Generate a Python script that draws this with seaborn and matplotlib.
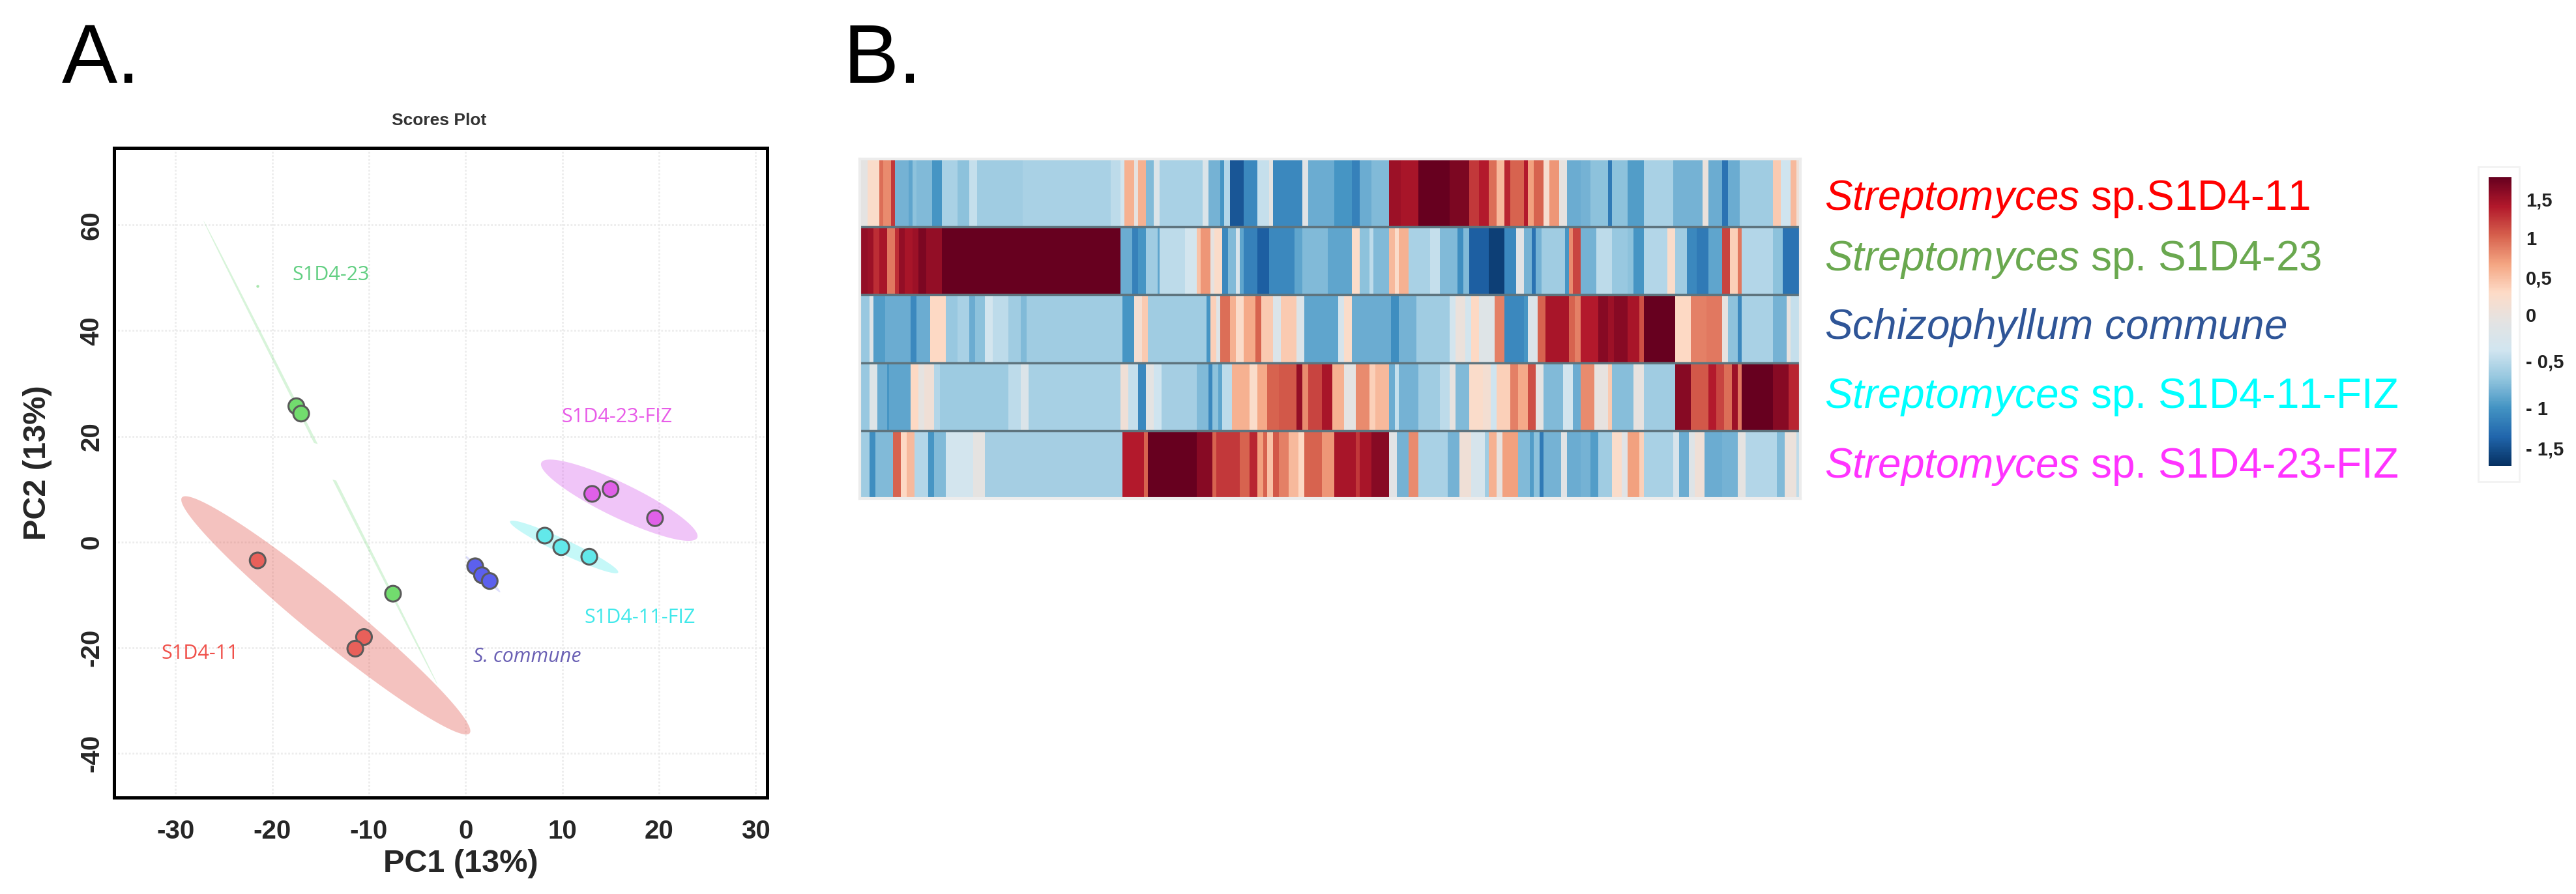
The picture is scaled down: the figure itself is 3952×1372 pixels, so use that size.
import numpy as np
import pandas as pd
import matplotlib
matplotlib.use("Agg")
import matplotlib.pyplot as plt
from matplotlib.colors import LinearSegmentedColormap
from matplotlib.patches import Rectangle
import seaborn as sns

sns.set_theme(style="white")
plt.rcParams["font.family"] = ["Liberation Sans", "DejaVu Sans"]
plt.rcParams["mathtext.fontset"] = "custom"
plt.rcParams["mathtext.it"] = "Liberation Sans:italic"
plt.rcParams["mathtext.rm"] = "Liberation Sans"
plt.rcParams["axes.unicode_minus"] = False

FIG_W, FIG_H = 3952, 1372

############### Panel A data
groups = ["S1D4-11", "S1D4-23", "S. commune", "S1D4-11-FIZ", "S1D4-23-FIZ"]
group_colors = ["#e8605a", "#72dc6e", "#5c60ee", "#62e8ea", "#e060e8"]
label_colors = ["#f0504a", "#62cf82", "#6a60b4", "#40e8ea", "#e85ce8"]

s1d4_11_pc1 = [-21.5, -10.5, -11.4]
s1d4_11_pc2 = [-3.5, -18.0, -20.2]
s1d4_23_pc1 = [-17.5, -17.0, -7.5]
s1d4_23_pc2 = [25.7, 24.3, -9.8]
commune_pc1 = [1.0, 1.7, 2.5]
commune_pc2 = [-4.6, -6.3, -7.4]
s1d4_11_fiz_pc1 = [8.2, 9.9, 12.8]
s1d4_11_fiz_pc2 = [1.2, -1.0, -2.8]
s1d4_23_fiz_pc1 = [13.1, 15.0, 19.6]
s1d4_23_fiz_pc2 = [9.1, 10.0, 4.5]
green_speck = (-21.5, 48.5)

# ellipse tips (x0, y0, x1, y1) and half thickness along PC2
ellipse_red = (-29.4, 8.0, 0.5, -35.8, 5.4)
ellipse_green = (-27.1, 60.8, -2.9, -27.0, 0.6)
ellipse_blue = (0.0, -2.7, 3.6, -9.5, 0.6)
ellipse_cyan = (4.6, 3.8, 15.8, -5.7, 1.5)
ellipse_magenta = (7.8, 14.7, 24.0, 1.1, 3.6)

x_ticks = [-30, -20, -10, 0, 10, 20, 30]
y_ticks = [-40, -20, 0, 20, 40, 60]

############### Panel B data, (end column, value) runs per row
row1 = [(2, 0.0), (5, 0.3), (6, 0.95), (8, 0.8), (9, 1.2), (12.6, -0.8), (13.6, -0.9), (14.6, -0.7),
        (18.6, -0.75), (20.8, -1.0), (25, -0.55), (28, -0.7), (30, -0.4), (41.5, -0.6), (64, -0.55),
        (66.6, -0.45), (67.4, -0.3), (70, 0.6), (71, 0.05), (73.2, 0.6), (75, -0.75), (76.6, -0.15),
        (87.4, -0.55), (89, -0.15), (92, -0.8), (93, -1.0), (94.6, -0.5), (98, -1.45), (101.3, -1.1),
        (104.6, -0.4), (105.5, 0.0), (113, -1.1), (114.6, -0.05), (120.8, -0.85), (125.7, -1.0),
        (127.4, -1.15), (130.7, -0.85), (134.9, -0.75), (138.2, 1.45), (142.4, 1.4), (150.4, 1.7),
        (155.4, 1.6), (158.2, 1.2), (160.4, 1.35), (162.4, 0.95), (164.6, 0.55), (166, 1.3),
        (169.3, 1.0), (170.7, 1.35), (171.8, 0.7), (174.6, 1.0), (176, 0.25), (178.5, 0.75),
        (180.7, 0.05), (183.8, -0.85), (186.6, -0.8), (190.8, -0.7), (191.9, -1.2), (195.8, -0.7),
        (199.9, -0.95), (207.4, -0.55), (215.2, -0.8), (216.6, 0.1), (220.2, -0.85), (221.6, -1.25),
        (224.6, -0.85), (233, -0.6), (235.2, 0.45), (237.4, -0.35), (238.8, 0.55), (240, 0.15)]

row2 = [(1.8, 1.5), (3.5, 1.45), (5.2, 1.25), (6.8, 1.4), (9, 0.9), (10, 1.25), (11.5, 1.5), (13.5, 1.4),
        (14.9, 1.45), (17.1, 1.6), (21, 1.5), (66.6, 1.7), (69.6, -0.85), (70.8, -1.15), (73.2, -1.0),
        (75.8, -0.6), (76.6, -0.9), (83, -0.45), (85.8, -0.3), (86.9, 0.5), (89.6, 0.75), (90.5, 0.05),
        (92.4, 0.3), (93.8, -1.1), (95.8, -0.75), (97.1, -0.2), (98, -0.9), (101.6, -1.15), (104.6, -1.4),
        (111, -1.1), (113, -0.9), (119.4, -0.75), (125.7, -0.9), (127.4, 0.3), (129.9, -0.7),
        (131, -0.45), (134.9, -0.75), (136.3, 0.55), (137.7, 0.3), (139.9, 0.6), (145.4, -0.55),
        (148.2, -0.4), (152.7, -0.75), (153.8, -1.05), (155.7, -0.75), (160.4, -1.4), (164.3, -1.6),
        (167.7, -1.1), (169.6, -0.05), (171.3, -0.8), (172.7, -1.25), (173.8, -0.8), (180.2, -0.6),
        (181, -1.0), (182.1, 0.8), (183.8, 1.15), (188, -0.8), (191.9, -0.45), (195.8, -0.65),
        (197.7, -0.7), (199.9, -1.0), (205.8, -0.5), (208, 0.3), (211, -0.6), (213.5, -1.1),
        (216.3, -1.2), (220.2, -0.9), (221.9, 1.15), (223.8, 0.4), (224.9, 0.9), (233, -0.5),
        (235.5, -0.7), (240, -1.25)]

row3 = [(2.4, -0.65), (3.5, -0.1), (6.5, -0.95), (13, -0.85), (14.6, -1.1), (18, -0.85), (21.8, 0.35),
        (25, -0.65), (28.2, -0.55), (29.6, -0.85), (32, -0.7), (33.8, -0.3), (38.2, -0.45), (41.2, -0.6),
        (42.7, -0.75), (67.1, -0.6), (69.9, -1.0), (72.1, 0.2), (73.5, 0.45), (88.5, -0.6), (89.3, -1.0),
        (90.8, 0.4), (92.2, -0.1), (94.4, 0.95), (95.8, 0.6), (98, 0.3), (101, 0.65), (102.7, 1.0),
        (105.5, 0.45), (107.4, -0.15), (111.3, 0.45), (113.5, -0.15), (121.9, -0.9), (123.5, -0.25),
        (125.7, 0.3), (135.7, -0.85), (137.7, -1.05), (142.1, -0.8), (150.4, -0.6), (152.1, -0.3),
        (154.3, 0.1), (156, -0.3), (158.2, 0.35), (161.8, -0.1), (164.6, 0.85), (169.3, -1.1),
        (170.7, -1.0), (173.2, -0.15), (175.2, 1.0), (181, 1.4), (182.4, 1.0), (184.1, 0.85),
        (188.3, 1.35), (190.8, 1.55), (192.4, 1.45), (195.8, 1.55), (198.8, 1.4), (200.2, 1.1),
        (208, 1.7), (212.1, 0.35), (215.8, 0.85), (220.2, 0.9), (221.6, 0.05), (223.8, -0.7),
        (225.2, -1.1), (233, -0.55), (236.6, -0.8), (237.7, 0.05), (240, -0.4)]

row4 = [(2.4, -0.65), (4.3, -0.1), (6.8, -0.85), (7.6, -1.0), (13.2, -0.9), (15.2, 0.35), (16.6, 0.02),
        (19.1, 0.15), (20.7, -0.5), (38.2, -0.62), (41.2, -0.45), (42.9, -0.15), (66.6, -0.57),
        (68.5, 0.15), (71, -0.4), (73.2, -1.1), (75, 0.0), (76.9, -0.35), (85.8, -0.58), (88.8, -0.75),
        (90.2, -1.1), (91.6, -0.7), (92.7, -0.9), (95.2, -0.45), (99.6, 0.6), (101.3, 0.3), (103.8, 0.65),
        (107.1, 1.0), (111.6, 1.05), (113, 1.5), (114.4, 0.8), (118, 1.15), (120.5, 1.4), (123.5, 0.6),
        (126.6, 0.0), (129.9, 0.8), (131.6, 0.4), (134.9, 0.55), (136.3, -0.85), (137.7, -0.4),
        (142.4, -0.8), (148.2, -0.6), (150.4, -0.45), (151.8, 0.05), (155.4, -0.75), (158.8, 0.3),
        (161, 0.2), (162.7, -0.35), (166, 0.4), (168.2, 0.85), (170.7, 0.65), (172.7, 1.1), (174.6, 0.0),
        (179.3, -0.75), (181.9, -0.3), (184.1, -0.85), (187.7, 0.8), (191, 0.05), (192.1, 0.45),
        (197.4, -0.72), (199.9, 0.05), (208, -0.6), (212.1, 1.55), (216.3, 1.05), (218.5, 1.35),
        (220.5, 1.15), (222.4, 0.95), (223.8, 1.45), (225.2, 0.9), (233, 1.7), (237.1, 1.55), (240, 1.3)]

row5 = [(2.6, -0.6), (4, -1.05), (8.5, -0.75), (10.4, 1.0), (11.8, 0.35), (13.8, 0.55), (17.4, -0.5),
        (19.1, -1.0), (21.8, -0.75), (29, -0.3), (32.1, 0.02), (66.8, -0.58), (72.7, 1.35), (73.5, 1.0),
        (85.8, 1.7), (90.2, 1.55), (90.8, 1.0), (96.9, 1.2), (99.6, 1.0), (101.3, 1.3), (103, 0.7),
        (103.8, 1.0), (105.5, 0.5), (106.9, 1.05), (109.4, 0.85), (111.9, 0.55), (113.5, 0.35), (118, 1.0),
        (121, 0.75), (126.6, 1.4), (127.7, 1.2), (130.4, 1.4), (134.9, 1.55), (137.1, -0.05), (140.2, -0.8),
        (142.4, 0.8), (149.9, -0.55), (153, -0.8), (156, 0.15), (159.6, -0.25), (160.4, -0.6), (162.4, 0.6),
        (164, 0.05), (168.2, 0.7), (171, -0.75), (171.8, -0.95), (173.5, -0.7), (174.6, -1.2), (178.8, -0.8),
        (180.7, -0.05), (184.1, -0.85), (186.3, -0.8), (188.5, -0.95), (192.1, -0.6), (194.4, 0.3),
        (196, -0.05), (198.8, 0.7), (200.2, 0.4), (207.4, -0.55), (209.1, -0.2), (211.3, -0.85),
        (213.2, -0.1), (215.5, 0.15), (220.2, -0.85), (223.8, -0.8), (226, 0.02), (233.8, -0.5),
        (235.8, -0.75), (238.8, 0.1), (240, -0.45)]

row_names = ["S1D4-11", "S1D4-23", "S. commune", "S1D4-11-FIZ", "S1D4-23-FIZ"]
row_labels = [r"$\mathit{Streptomyces}$ sp.S1D4-11",
              r"$\mathit{Streptomyces}$ sp. S1D4-23",
              r"$\mathit{Schizophyllum\ commune}$",
              r"$\mathit{Streptomyces}$ sp. S1D4-11-FIZ",
              r"$\mathit{Streptomyces}$ sp. S1D4-23-FIZ"]
row_label_colors = ["#ff0000", "#6aa84f", "#2f5597", "#00ffff", "#ff33ff"]
row_label_baselines = [322, 415, 520, 626, 733]

heat_colors = ["#053061", "#2166ac", "#4393c3", "#92c5de", "#d1e5f0", "#e3e3e3",
               "#fddbc7", "#f4a582", "#d6604d", "#b2182b", "#67001f"]
cbar_tick_values = [1.44, 0.99, 0.52, 0.08, -0.46, -1.02, -1.49]
cbar_tick_labels = ["1,5", "1", "0,5", "0", "- 0,5", "- 1", "- 1,5"]


def px_axes(fig, left, top, right, bottom):
    """Axes placed by pixel box of the reference."""
    return fig.add_axes([left / FIG_W, 1 - bottom / FIG_H, (right - left) / FIG_W, (bottom - top) / FIG_H])


def px_text(fig, x, y, s, **kwargs):
    return fig.text(x / FIG_W, 1 - y / FIG_H, s, **kwargs)


def ellipse_points(spec):
    x0, y0, x1, y1, half = spec
    t = np.linspace(0, 2 * np.pi, 200)
    cx, cy = (x0 + x1) / 2, (y0 + y1) / 2
    ax_x, ax_y = (x0 - x1) / 2, (y0 - y1) / 2
    return cx + ax_x * np.cos(t), cy + ax_y * np.cos(t) + half * np.sin(t)


def expand_runs(runs, per_col=2):
    """Turn (end column, value) runs into one heatmap row."""
    cells = []
    start = 0
    for end, value in runs:
        stop = int(round(end * per_col))
        cells.extend([value] * (stop - start))
        start = stop
    return cells


fig = plt.figure(figsize=(FIG_W / 100, FIG_H / 100), dpi=100, facecolor="white")

############### Panel A
ax = px_axes(fig, 175, 227, 1177, 1224)
scores = pd.DataFrame({
    "PC1": s1d4_11_pc1 + s1d4_23_pc1 + commune_pc1 + s1d4_11_fiz_pc1 + s1d4_23_fiz_pc1,
    "PC2": s1d4_11_pc2 + s1d4_23_pc2 + commune_pc2 + s1d4_11_fiz_pc2 + s1d4_23_fiz_pc2,
    "group": [g for g in groups for _ in range(3)],
})

ax.grid(True, color="#ececec", linewidth=2, linestyle=(0, (1, 1)))
ax.set_axisbelow(True)

for spec, color, alpha in [(ellipse_red, "#e2584e", 0.36), (ellipse_blue, "#5c60ee", 0.2),
                           (ellipse_cyan, "#40e8ea", 0.3), (ellipse_magenta, "#d040e8", 0.3)]:
    ex, ey = ellipse_points(spec)
    ax.fill(ex, ey, color=color, alpha=alpha, linewidth=0, zorder=1.5)

# the green one is broken in two in the original
ex, ey = ellipse_points(ellipse_green)
for keep in (ey > 18.5, ey < 12.5):
    ax.fill(ex[keep], ey[keep], color="#7fdc86", alpha=0.3, linewidth=0, zorder=1.5)

sns.scatterplot(data=scores, x="PC1", y="PC2", hue="group", hue_order=groups, palette=group_colors,
                s=300, edgecolor="#5a5a5a", linewidth=2.2, legend=False, ax=ax, zorder=3)
ax.scatter([green_speck[0]], [green_speck[1]], s=10, color="#a8e6ae", linewidth=0, zorder=2)

ax.set_xlim(-36.35, 31.2)
ax.set_ylim(-48.4, 74.6)
ax.set_xticks(x_ticks)
ax.set_yticks(y_ticks)
ax.tick_params(axis="x", length=0, labelsize=29, pad=24)
ax.tick_params(axis="y", length=0, labelsize=29, pad=11)
for lab in ax.get_xticklabels():
    lab.set_fontweight("bold")
for lab in ax.get_yticklabels():
    lab.set_fontweight("bold")
    lab.set_rotation(90)
    lab.set_va("center")
ax.set_xlabel("")
ax.set_ylabel("")
for spine in ax.spines.values():
    spine.set_visible(True)
    spine.set_color("black")
    spine.set_linewidth(3.6)

ax.text(-17.9, 50.5, "S1D4-23", color=label_colors[1], fontsize=22, va="center", family="Open Sans")
ax.text(9.9, 23.7, "S1D4-23-FIZ", color=label_colors[4], fontsize=22, va="center", family="Open Sans")
ax.text(12.3, -14.3, "S1D4-11-FIZ", color=label_colors[3], fontsize=22, va="center", family="Open Sans")
ax.text(0.8, -21.7, "S. commune", color=label_colors[2], fontsize=22, va="center", style="italic", family="Open Sans")
ax.text(-31.5, -21.1, "S1D4-11", color=label_colors[0], fontsize=22, va="center", family="Open Sans")

px_text(fig, 707, 1325, "PC1 (13%)", fontsize=35, fontweight="bold", ha="center", va="center")
px_text(fig, 57, 710, "PC2 (13%)", fontsize=35, fontweight="bold", ha="center", va="center", rotation=90)
px_text(fig, 674, 185, "Scores Plot", fontsize=19, fontweight="bold", ha="center", va="center", color="#333333")
px_text(fig, 95, 127, "A.", fontsize=92, ha="left", va="baseline", color="black")
px_text(fig, 1293, 127, "B.", fontsize=92, ha="left", va="baseline", color="black")

############### Panel B
heat_cmap = LinearSegmentedColormap.from_list("heat", heat_colors)
heat = pd.DataFrame([expand_runs(r) for r in (row1, row2, row3, row4, row5)], index=row_names)

hax = px_axes(fig, 1319, 244, 2762, 765)
cax = px_axes(fig, 3818, 272, 3853, 715)
sns.heatmap(heat, cmap=heat_cmap, vmin=-1.7, vmax=1.7, xticklabels=False, yticklabels=False,
            cbar_ax=cax, ax=hax)
hax.set_xlabel("")
hax.set_ylabel("")
hax.hlines([1, 2, 3, 4], 0, heat.shape[1], color="#5e747e", linewidth=2.5)
for spine in hax.spines.values():
    spine.set_visible(True)
    spine.set_color("#ececec")
    spine.set_linewidth(3)

for label, color, base in zip(row_labels, row_label_colors, row_label_baselines):
    px_text(fig, 2799, base, label, color=color, fontsize=46, ha="left", va="baseline")

cax.set_yticks(cbar_tick_values)
cax.set_yticklabels(cbar_tick_labels, fontsize=21, fontweight="bold", color="#222222")
cax.tick_params(axis="y", length=0, pad=16, right=False)
for spine in cax.spines.values():
    spine.set_visible(False)

# pale frame left of the colour bar, as pasted in the original
fig.add_artist(Rectangle((3802 / FIG_W, 1 - 739 / FIG_H), 63 / FIG_W, 483 / FIG_H, transform=fig.transFigure,
                         fill=False, edgecolor="#f2f2f2", linewidth=2))

fig.savefig("out.png", dpi=100)
